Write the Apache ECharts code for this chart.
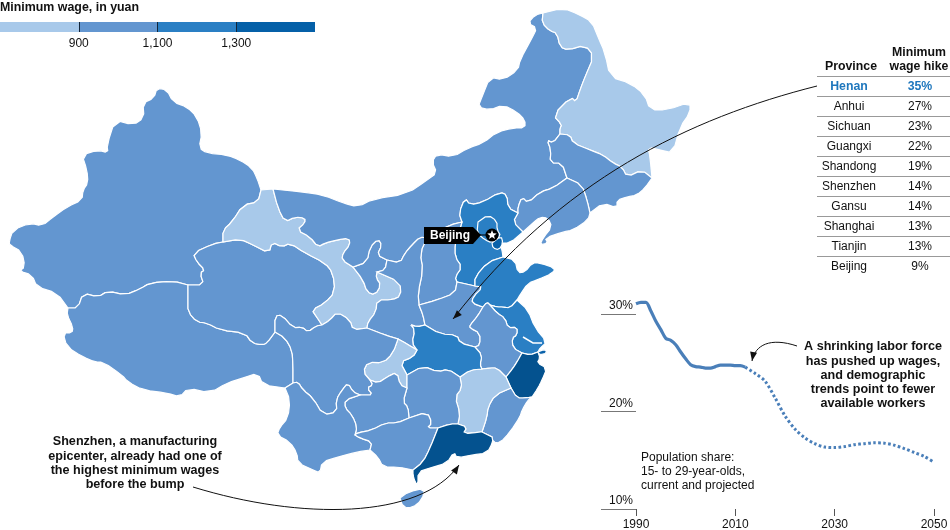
<!DOCTYPE html>
<html>
<head>
<meta charset="utf-8">
<style>
  html, body { margin: 0; background: #fff; }
  #chart { width: 950px; height: 530px; }
</style>
<script src="https://cdn.jsdelivr.net/npm/echarts@6/dist/echarts.min.js"></script>
</head>
<body>
<div id="chart"></div>
<script>
// values
const provinceNames = ['Xinjiang','Tibet','Qinghai','Gansu','Ningxia','Inner Mongolia','Heilongjiang','Jilin','Liaoning','Hebei','Shanxi','Shaanxi','Henan','Shandong','Jiangsu','Anhui','Zhejiang','Fujian','Jiangxi','Hubei','Chongqing','Hunan','Sichuan','Guizhou','Yunnan','Guangxi','Guangdong','Hainan','Beijing','Tianjin','Shanghai'];
const provinceWages = [1000,1000,1000,850,1000,1000,850,1000,1000,1200,1000,1000,1000,1200,1200,1000,1450,1000,850,1200,850,1000,1000,1000,1000,1000,1450,1000,1200,1310,1350];

const wageBreaks = [900, 1100, 1300];
const legendSteps = [900, 200, 200, 200];
const legendColors = ['#a8c9ea', '#6396d0', '#2a7fc4', '#0560a8'];

const tableProvinces = ['Henan','Anhui','Sichuan','Guangxi','Shandong','Shenzhen','Gansu','Shanghai','Tianjin','Beijing'];
const tableHikes = ['35%','27%','23%','22%','19%','14%','14%','13%','13%','9%'];

const actualYears = [1990,1991,1992,1993,1994,1995,1996,1997,1998,1999,2000,2001,2002,2003,2004,2005,2006,2007,2008,2009,2010,2011,2012];
const actualShares = [31.05,31.2,31.2,30.3,29.25,28.4,27.5,27.3,26.85,26.1,25.4,24.8,24.6,24.55,24.45,24.45,24.6,24.75,24.75,24.75,24.7,24.7,24.55];
const projectedYears = [2012,2014,2016,2018,2020,2022,2024,2026,2028,2030,2032,2034,2036,2038,2040,2042,2044,2046,2048,2050];
const projectedShares = [24.55,23.9,23.1,21.4,19.55,18.2,17.3,16.7,16.35,16.3,16.4,16.6,16.7,16.8,16.75,16.55,16.2,15.8,15.4,14.8];
const shareTicks = [10, 20, 30];
const yearTicks = [1990, 2010, 2030, 2050];

// province borders, in map units, shared so neighbours line up
const borders = {
  xjOuter: [[261,190],[257,178],[252,168],[240,160],[227,155],[207,153],[199,148],[202,133],[197,117],[187,107],[173,102],[167,90],[157,88],[154,98],[143,103],[144,118],[133,125],[115,120],[107,145],[108,153],[98,150],[82,155],[87,170],[88,183],[83,190],[82,200],[67,207],[53,217],[42,226],[30,223],[13,230],[9,242],[10,245],[22,252],[25,267],[19,271],[32,275],[37,287],[57,293],[68,308]],
  xjTb: [[68,308],[78,308],[83,293],[98,297],[108,291],[125,295],[140,289],[150,283],[173,281],[188,285]],
  xjQh: [[188,285],[204,285],[200,273],[205,270],[197,262],[193,253],[213,244],[223,242]],
  xjGs: [[223,242],[223,230],[232,222],[243,205],[258,202],[261,190]],
  tbOuter: [[68,308],[67,315],[73,327],[72,333],[63,333],[67,347],[83,357],[95,362],[103,362],[122,375],[128,382],[143,390],[167,393],[180,397],[188,388],[210,393],[227,383],[243,378],[258,373],[263,385],[285,388]],
  tbYn: [[285,388],[293,383]],
  tbSc: [[293,383],[293,365],[292,350],[285,338],[275,332]],
  qhTb: [[275,332],[267,343],[262,345],[252,343],[245,333],[220,330],[207,323],[197,322],[188,312],[188,300],[188,285]],
  gsQh: [[223,242],[240,239],[253,245],[269,253],[272,242],[282,247],[290,243],[305,253],[325,263],[333,273],[335,292],[325,303],[312,310],[316,316],[322,325]],
  qhSc: [[275,332],[275,316],[282,315],[293,328],[302,327],[308,332],[316,326],[322,325]],
  gsSc: [[322,325],[330,320],[337,312],[350,320],[353,330],[367,328]],
  gsSn: [[377,272],[400,282],[401,296],[392,300],[377,300],[376,312],[368,322],[367,328]],
  gsNx: [[377,272],[376,278],[381,285],[375,295],[367,292],[363,280],[353,267]],
  gsTop: [[261,190],[273,189]],
  gsIm: [[273,189],[278,208],[285,222],[295,217],[305,218],[305,223],[297,230],[310,237],[318,247],[325,243],[337,240],[349,238],[350,245],[343,253],[342,260],[353,267]],
  nxIm: [[353,267],[367,262],[370,247],[378,239],[382,245],[377,255],[387,260]],
  nxSn: [[387,260],[385,270],[377,272]],
  imSn: [[387,260],[400,263],[405,253],[412,245],[420,237],[427,238]],
  snSx: [[427,238],[420,253],[423,270],[418,293],[419,305]],
  snHa: [[419,305],[423,315],[425,325]],
  snHb: [[425,325],[417,327],[410,324],[415,330],[412,343],[417,350]],
  cqSn: [[398,339],[407,344],[417,350]],
  scSn: [[367,328],[385,335],[398,339]],
  imSx: [[427,238],[437,232],[450,225],[462,222]],
  sxHe: [[462,222],[459,232],[455,243],[455,257],[462,267],[455,277],[457,282]],
  haSx: [[457,282],[455,293],[437,300],[419,305]],
  imOuter: [[273,189],[303,192],[323,195],[343,203],[358,207],[373,199],[407,194],[427,180],[437,173],[432,162],[437,154],[453,157],[468,148],[483,143],[497,132],[513,128],[525,128],[525,120],[517,112],[503,105],[490,110],[478,107],[482,97],[490,77],[503,80],[518,70],[520,60],[532,38],[537,28],[528,23],[535,15],[543,13]],
  hlIm: [[543,13],[542,23],[550,31],[557,33],[560,47],[568,50],[585,45],[594,56],[585,77],[580,90],[576,102],[571,97],[553,115],[562,125],[560,128],[560,134]],
  imJl: [[560,134],[553,143],[547,140],[551,150],[550,163],[562,163],[567,178]],
  imLn: [[567,178],[553,188],[540,192],[528,203],[522,197],[518,207],[518,213]],
  heIm: [[462,222],[459,213],[465,198],[470,205],[483,202],[500,192],[507,195],[508,208],[518,213]],
  hlOuter: [[543,13],[563,8],[580,15],[592,22],[598,37],[605,53],[610,77],[630,83],[645,95],[650,110],[667,110],[690,102],[690,113],[680,127],[673,153],[660,150],[648,147],[650,157],[652,178]],
  hlJl: [[560,134],[570,135],[573,143],[590,150],[603,155],[613,163],[622,167],[627,177],[642,170],[652,178]],
  jlOuter: [[652,178],[645,188],[637,195],[627,197],[617,200],[617,208],[603,203],[590,213]],
  jlLn: [[567,178],[582,185],[587,200],[590,213]],
  lnCoast: [[590,213],[588,220],[573,230],[563,232],[545,238],[548,243],[540,245],[543,238],[552,227],[548,218],[540,217],[533,223],[523,232]],
  heLn: [[518,213],[513,222],[523,232]],
  heCoast: [[523,232],[510,243],[500,243],[502,250],[503,257]],
  heSd: [[503,257],[488,262],[475,277],[475,286]],
  haHe: [[475,286],[457,282]],
  sdCoast: [[503,257],[515,260],[518,273],[525,272],[532,263],[540,263],[555,268],[553,273],[537,280],[528,283],[520,295],[517,300]],
  sdJs: [[490,305],[497,307],[503,307],[510,308],[517,300]],
  sdAh: [[483,307],[487,302],[490,305]],
  haSd: [[475,286],[483,287],[473,297],[472,303],[483,307]],
  haAh: [[483,307],[477,317],[470,325],[470,328],[480,333],[480,345],[475,347]],
  haHb: [[425,325],[440,334],[457,335],[460,343],[475,347]],
  jsCoast: [[517,300],[528,310],[535,328],[547,342],[540,348],[538,352]],
  jsZj: [[522,353],[530,355],[538,352]],
  jsAh: [[490,305],[497,313],[505,318],[508,328],[517,327],[517,335],[512,338],[513,348],[522,353]],
  ahZj: [[506,377],[513,368],[517,362],[522,353]],
  ahJx: [[482,369],[490,368],[497,368],[506,377]],
  ahHb: [[475,347],[482,355],[480,365],[482,369]],
  zjCoast: [[538,352],[540,358],[537,363],[547,368],[542,380],[538,388],[532,397]],
  fjZj: [[511,388],[517,398],[525,398],[532,397]],
  jxZj: [[506,377],[511,388]],
  fjCoast: [[532,397],[528,400],[522,410],[520,417],[510,432],[500,443],[493,442],[492,437]],
  fjGd: [[482,432],[492,437]],
  jxFj: [[482,432],[487,417],[488,407],[495,395],[511,388]],
  hbJx: [[460,377],[470,370],[482,369]],
  gdJx: [[458,424],[467,427],[463,434],[480,432],[482,432]],
  hnJx: [[460,377],[462,388],[455,397],[460,413],[458,424]],
  hbHn: [[407,375],[423,366],[438,372],[448,369],[460,377]],
  cqHb: [[417,350],[413,357],[400,362],[407,375]],
  cqHn: [[407,375],[407,388]],
  cqGz: [[370,380],[378,383],[387,377],[397,372],[400,385],[407,388]],
  scCq: [[398,339],[393,353],[383,363],[368,362],[363,372],[370,380]],
  hnGd: [[438,428],[450,424],[458,424]],
  gxHn: [[409,418],[427,412],[432,423],[427,428],[438,428]],
  gzHn: [[407,388],[403,402],[408,407],[409,418]],
  gxGz: [[409,418],[397,423],[385,423],[372,430],[357,433],[355,435]],
  ynGz: [[355,435],[357,427],[352,415],[345,408],[345,400],[360,395]],
  scGz: [[370,380],[373,385],[367,388],[373,395],[363,395],[360,395]],
  ynSc: [[360,395],[353,392],[348,383],[342,390],[336,400],[337,412],[323,415],[313,398],[303,390],[298,382],[293,383]],
  ynOuter: [[285,388],[290,400],[288,418],[280,427],[277,435],[290,442],[297,453],[298,463],[313,470],[320,473],[322,462],[338,457],[357,452],[370,450]],
  gxYn: [[355,435],[360,438],[372,442],[370,450]],
  gxCoast: [[370,450],[378,457],[383,467],[398,467],[413,470]],
  gdGx: [[438,428],[430,448],[423,462],[413,470]],
  gdCoast: [[492,437],[493,442],[487,453],[472,455],[457,458],[454,452],[447,463],[430,468],[418,472],[418,485],[415,482],[413,475],[413,470]],
  hainan: [[400,498],[408,492],[425,488],[422,500],[412,508],[403,507],[400,498]],
  beijing: [[478,222],[488,215],[497,221],[497,230],[501,236],[492,243],[485,240],[477,233],[478,222]],
  tianjin: [[492,243],[501,236],[503,243],[499,250],[493,248],[492,243]],
  shanghai: [[538,352],[545,349],[547,353],[540,355],[538,352]]
};

// a leading minus walks the border backwards
const provinceRings = {
  'Xinjiang': ['xjOuter','xjTb','xjQh','xjGs'],
  'Tibet': ['-xjTb','tbOuter','tbYn','tbSc','qhTb'],
  'Qinghai': ['xjQh','gsQh','-qhSc','qhTb'],
  'Gansu': ['gsTop','gsIm','-gsNx','gsSn','-gsSc','-gsQh','xjGs'],
  'Ningxia': ['nxIm','nxSn','gsNx'],
  'Inner Mongolia': ['imOuter','hlIm','imJl','imLn','-heIm','-imSx','-imSn','-nxIm','-gsIm'],
  'Heilongjiang': ['hlOuter','-hlJl','-hlIm'],
  'Jilin': ['hlJl','jlOuter','-jlLn','-imJl'],
  'Liaoning': ['jlLn','lnCoast','-heLn','-imLn'],
  'Hebei': ['heIm','heLn','heCoast','heSd','haHe','-sxHe'],
  'Shanxi': ['imSx','sxHe','haSx','-snSx'],
  'Shaanxi': ['imSn','snSx','snHa','snHb','-cqSn','-scSn','-gsSn','-nxSn'],
  'Henan': ['-haSx','-haHe','haSd','haAh','-haHb','-snHa'],
  'Shandong': ['-heSd','sdCoast','-sdJs','-sdAh','-haSd'],
  'Jiangsu': ['sdJs','jsCoast','-jsZj','-jsAh'],
  'Anhui': ['sdAh','jsAh','-ahZj','-ahJx','-ahHb','-haAh'],
  'Zhejiang': ['ahZj','jsZj','zjCoast','-fjZj','-jxZj'],
  'Fujian': ['fjZj','fjCoast','-fjGd','jxFj'],
  'Jiangxi': ['hbJx','ahJx','jxZj','-jxFj','-gdJx','-hnJx'],
  'Hubei': ['haHb','ahHb','-hbJx','-hbHn','-cqHb','-snHb'],
  'Chongqing': ['cqSn','cqHb','cqHn','-cqGz','-scCq'],
  'Hunan': ['hbHn','hnJx','-hnGd','-gxHn','-gzHn','-cqHn'],
  'Sichuan': ['qhSc','gsSc','scSn','scCq','scGz','ynSc','tbSc'],
  'Guizhou': ['cqGz','gzHn','gxGz','ynGz','-scGz'],
  'Yunnan': ['tbYn','-ynSc','-ynGz','gxYn','-ynOuter'],
  'Guangxi': ['-gxYn','-gxGz','gxHn','gdGx','-gxCoast'],
  'Guangdong': ['hnGd','gdJx','fjGd','gdCoast','-gdGx'],
  'Hainan': ['hainan'],
  'Beijing': ['beijing'],
  'Tianjin': ['tianjin'],
  'Shanghai': ['shanghai']
};

// cut the corners of a border, ends stay put so neighbours still meet
function rounded(pts) {
  const out = [pts[0]];
  for (let i = 0; i < pts.length - 1; i++) {
    const a = pts[i], b = pts[i + 1];
    if (i > 0) out.push([a[0] * 0.72 + b[0] * 0.28, a[1] * 0.72 + b[1] * 0.28]);
    if (i < pts.length - 2) out.push([a[0] * 0.28 + b[0] * 0.72, a[1] * 0.28 + b[1] * 0.72]);
  }
  out.push(pts[pts.length - 1]);
  return out;
}

function ringOf(names) {
  let ring = [];
  names.forEach(n => {
    const back = n[0] === '-';
    const pts = rounded(borders[back ? n.slice(1) : n]);
    ring = ring.concat(back ? pts.slice().reverse() : pts);
  });
  if (ring[0][0] !== ring[ring.length - 1][0] || ring[0][1] !== ring[ring.length - 1][1]) ring.push(ring[0]);
  return ring;
}

const features = provinceNames.map(name => ({
  type: 'Feature',
  properties: { name },
  geometry: { type: 'Polygon', coordinates: [ringOf(provinceRings[name])] }
}));
echarts.registerMap('china', { type: 'FeatureCollection', features });

const allPts = features.flatMap(f => f.geometry.coordinates[0]);
const mapLeft = Math.min(...allPts.map(p => p[0]));
const mapTop = Math.min(...allPts.map(p => p[1]));
const mapWidth = Math.max(...allPts.map(p => p[0])) - mapLeft;
const mapHeight = Math.max(...allPts.map(p => p[1])) - mapTop;

const FONT = '"Liberation Sans", Arial, sans-serif';
const INK = '#111';
const BLUE = '#1f77bd';
const LINE = '#4a7fb9';

function txt(x, y, text, opts) {
  return {
    type: 'text', x, y, z: 20,
    style: Object.assign({ text, fill: INK, font: '12px ' + FONT, align: 'center', verticalAlign: 'middle' }, opts || {})
  };
}
function rule(x1, x2, y, color) {
  return { type: 'line', z: 20, shape: { x1, y1: y, x2, y2: y }, style: { stroke: color || '#999', lineWidth: 1 } };
}
function curve(p0, c1, c2, p1) {
  return {
    type: 'bezierCurve', z: 20,
    shape: { x1: p0[0], y1: p0[1], cpx1: c1[0], cpy1: c1[1], cpx2: c2[0], cpy2: c2[1], x2: p1[0], y2: p1[1] },
    style: { stroke: '#111', lineWidth: 1, fill: null }
  };
}
function arrowHead(tip, from) {
  const dx = tip[0] - from[0], dy = tip[1] - from[1];
  const len = Math.hypot(dx, dy), ux = dx / len, uy = dy / len;
  const bx = tip[0] - ux * 9, by = tip[1] - uy * 9;
  return {
    type: 'polygon', z: 21,
    shape: { points: [tip, [bx - uy * 3.5, by + ux * 3.5], [bx + uy * 3.5, by - ux * 3.5]] },
    style: { fill: '#111' }
  };
}
function starPoints(cx, cy, r) {
  const pts = [];
  for (let i = 0; i < 10; i++) {
    const a = -Math.PI / 2 + i * Math.PI / 5, q = i % 2 ? r * 0.42 : r;
    pts.push([cx + q * Math.cos(a), cy + q * Math.sin(a)]);
  }
  return pts;
}

const BOLD = 'bold 12.3px ' + FONT;
const NOTE = 'bold 12.6px ' + FONT;
const graphics = [];

graphics.push(txt(0, 8, 'Minimum wage, in yuan', { font: 'bold 12.4px ' + FONT, align: 'left' }));

// table
graphics.push(txt(851, 67, 'Province', { font: BOLD }));
graphics.push(txt(919, 53, 'Minimum', { font: BOLD }));
graphics.push(txt(919, 67, 'wage hike', { font: BOLD }));
tableProvinces.forEach((p, i) => {
  const y = 76.5 + i * 20;
  graphics.push(rule(817, 950, y));
  const first = i === 0;
  const o = first ? { font: BOLD, fill: BLUE } : {};
  graphics.push(txt(849, y + 10.5, p, o));
  graphics.push(txt(920, y + 10.5, tableHikes[i], o));
});

// Yangtze mouth
graphics.push({ type: 'polyline', z: 10, shape: { points: [[523, 337], [533, 343], [542, 343]] }, style: { stroke: '#fff', lineWidth: 1.5, fill: null } });

// Beijing marker
graphics.push({ type: 'polygon', z: 20, shape: { points: [[424, 227], [473, 227], [481, 235], [473, 244], [424, 244]] }, style: { fill: '#000' } });
graphics.push(rule(480, 488, 235, '#000'));
graphics.push({ type: 'circle', z: 20, shape: { cx: 492, cy: 235, r: 6.5 }, style: { fill: '#000' } });
graphics.push({ type: 'polygon', z: 21, shape: { points: starPoints(492, 235, 5) }, style: { fill: '#fff' } });
graphics.push(txt(450, 235.5, 'Beijing', { font: 'bold 12px ' + FONT, fill: '#fff' }));

// annotations
['Shenzhen, a manufacturing', 'epicenter, already had one of', 'the highest minimum wages', 'before the bump'].forEach((t, i) => {
  graphics.push(txt(135, 442 + i * 14.3, t, { font: NOTE }));
});
['A shrinking labor force', 'has pushed up wages,', 'and demographic', 'trends point to fewer', 'available workers'].forEach((t, i) => {
  graphics.push(txt(873, 347 + i * 14.2, t, { font: NOTE }));
});
['Population share:', '15- to 29-year-olds,', 'current and projected'].forEach((t, i) => {
  graphics.push(txt(641, 458 + i * 14, t, { align: 'left' }));
});

// leader lines
graphics.push(curve([817, 86], [690, 118], [560, 180], [453, 319]));
graphics.push(arrowHead([453, 319], [473, 299]));
graphics.push(curve([193, 487], [300, 520], [420, 520], [459, 465]));
graphics.push(arrowHead([459, 465], [449, 480]));
graphics.push(curve([797, 346], [770, 337], [755, 345], [752, 361]));
graphics.push(arrowHead([752, 361], [754, 350]));

const zip = (a, b) => a.map((v, i) => [v, b[i]]);

const option = {
  animation: false,
  textStyle: { fontFamily: FONT },
  grid: [
    { left: 0, top: 22, width: 315, height: 10, outerBoundsMode: 'none' },
    { left: 636, top: 294.5, width: 298, height: 214.5, outerBoundsMode: 'none' }
  ],
  xAxis: [
    {
      gridIndex: 0, type: 'value', min: 700, max: 1500,
      splitLine: { show: false }, axisLine: { show: false }, axisTick: { show: false },
      axisLabel: {
        customValues: wageBreaks, margin: 6, fontSize: 12, color: INK,
        formatter: v => String(v).replace(/(\d)(\d{3})$/, '$1,$2')
      }
    },
    {
      gridIndex: 1, type: 'value', min: 1990, max: 2050,
      splitLine: { show: false }, axisLine: { show: false },
      axisTick: { length: 7, customValues: yearTicks, lineStyle: { color: '#555', width: 1 } },
      axisLabel: { customValues: yearTicks, margin: 10, fontSize: 12, color: INK, formatter: v => String(v) }
    }
  ],
  yAxis: [
    { gridIndex: 0, type: 'category', data: ['wage'], show: false },
    {
      gridIndex: 1, type: 'value', min: 10, max: 32,
      splitLine: { show: false }, axisLine: { show: false },
      axisTick: { length: 35, customValues: shareTicks, lineStyle: { color: '#777', width: 1 } },
      axisLabel: {
        customValues: shareTicks, margin: 3, fontSize: 12, color: INK, verticalAlign: 'bottom', padding: [0, 0, 2, 0],
        formatter: v => v + '%'
      }
    }
  ],
  visualMap: {
    show: false, type: 'piecewise', seriesIndex: 0,
    pieces: [
      { lt: 900, color: '#a8c9ea' },
      { gte: 900, lt: 1100, color: '#6396d0' },
      { gte: 1100, lt: 1300, color: '#2a7fc4' },
      { gte: 1300, lt: 1400, color: '#0a62aa' },
      { gte: 1400, color: '#04528f' }
    ]
  },
  series: [
    {
      type: 'map', map: 'china', silent: true, selectedMode: false,
      projection: { project: p => p, unproject: p => p },
      aspectScale: 1,
      left: mapLeft, top: mapTop, width: mapWidth, height: mapHeight,
      label: { show: false },
      itemStyle: { borderColor: '#fff', borderWidth: 1.2 },
      data: provinceNames.map((name, i) => ({ name, value: provinceWages[i] }))
    },
    ...legendSteps.map((v, i) => ({
      type: 'bar', xAxisIndex: 0, yAxisIndex: 0, stack: 'legend', barWidth: '100%', silent: true,
      data: [v], itemStyle: { color: legendColors[i] },
      // dark ticks across the colour bar
      markLine: i === 3 ? {
        silent: true, symbol: 'none', animation: false, z: 10,
        label: { show: false },
        lineStyle: { color: '#13263a', width: 1, type: 'solid' },
        data: wageBreaks.map(v => ({ xAxis: v }))
      } : undefined
    })),
    {
      type: 'line', xAxisIndex: 1, yAxisIndex: 1, data: zip(actualYears, actualShares), smooth: 0.3,
      showSymbol: false, silent: true, lineStyle: { color: LINE, width: 3.2 }
    },
    {
      type: 'line', xAxisIndex: 1, yAxisIndex: 1, data: zip(projectedYears, projectedShares), smooth: 0.3,
      showSymbol: false, silent: true, lineStyle: { color: LINE, width: 3, type: [2.6, 2.4] }
    }
  ],
  graphic: graphics
};

const chart = echarts.init(document.getElementById('chart'), null, { renderer: 'canvas' });
chart.setOption(option);
</script>
</body>
</html>
